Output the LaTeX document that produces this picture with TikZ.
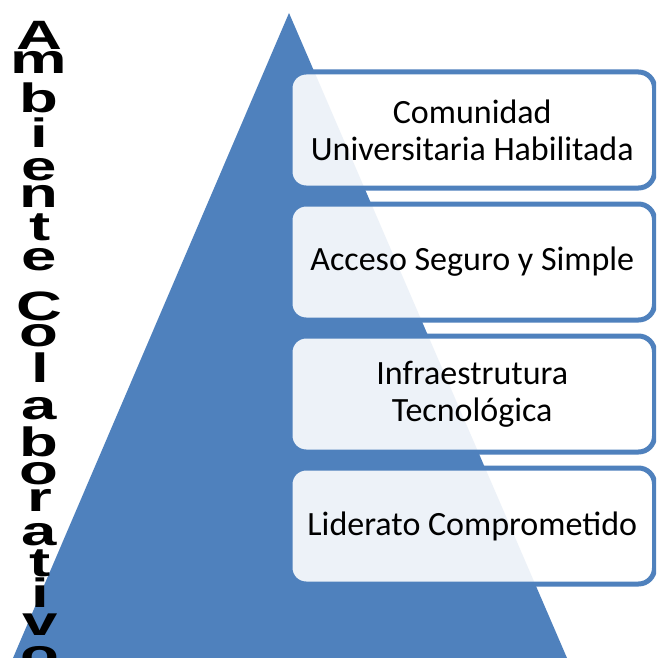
\documentclass[tikz,border=0pt]{standalone}
\usepackage{fontspec}
\setmainfont{Carlito}
\newfontfamily\lettersfont{Liberation Sans}
\usepackage{graphicx}
\definecolor{pyrblue}{HTML}{4F81BD}
\tikzset{
  levelbox/.style={draw=pyrblue, line width=5pt, rounded corners=16pt, fill=white,
    fill opacity=0.9, text opacity=1, minimum width=364.5pt, minimum height=116pt,
    align=center, font=\fontsize{34pt}{37pt}\selectfont, inner sep=0pt},
  letter/.style={inner sep=0pt, anchor=base, text=black,
    font=\lettersfont\bfseries\fontsize{41pt}{41pt}\selectfont}
}
\begin{document}
\begin{tikzpicture}[x=1pt,y=-1pt]
\clip (0,0) rectangle (656,658);
\fill[white] (0,0) rectangle (656,658);
% pyramid
\coordinate (apex) at (289,13);
\coordinate (bl) at (13,658);
\coordinate (br) at (567,658);
\fill[pyrblue] (apex) -- (bl) -- (br) -- cycle;
% level boxes
\node[levelbox] (lev1) at (472.25,130) {Comunidad\\Universitaria Habilitada};
\node[levelbox] (lev2) at (472.25,262) {Acceso Seguro y Simple};
\node[levelbox] (lev3) at (472.25,394) {Infraestrutura\\Tecnológica};
\node[levelbox] (lev4) at (472.25,526) {Liderato Comprometido};
% vertical title
\foreach \ch/\yb/\xc [count=\k] in {
  A/50/39, m/74/39, b/113/39, i/147/39,
  e/180/39, n/207/39, t/240/40, e/270/39,
  C/320/39, o/346/39, l/382/40, a/419/39,
  b/456/39, o/484/39, r/511/40, a/545/39,
  t/576/40, i/607/40, v/635/40, o/668/40}{
  \node[letter] (L\k) at (\xc,\yb) {\scalebox{1.55}[1]{\ch}};
}
\end{tikzpicture}
\end{document}
